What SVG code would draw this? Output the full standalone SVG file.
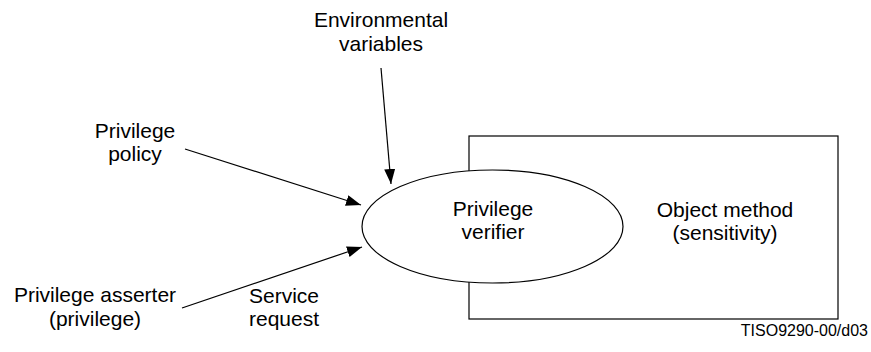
<svg xmlns="http://www.w3.org/2000/svg" width="871" height="352" viewBox="0 0 871 352">
<style>
text{font-family:"Liberation Sans",Arial,sans-serif;font-size:21px;fill:#000;text-anchor:middle}
.shape{fill:#fff;stroke:#000;stroke-width:1.2}
.conn{stroke:#000;stroke-width:1.2;fill:none;marker-end:url(#ah)}
</style>
<defs>
<marker id="ah" markerUnits="userSpaceOnUse" markerWidth="15" markerHeight="11" refX="15" refY="5.5" orient="auto">
<path d="M0,0 L15,5.5 L0,11 z" fill="#000"/>
</marker>
</defs>
<rect width="871" height="352" fill="#fff"/>
<g id="object-method">
<rect class="shape" x="469" y="136" width="369" height="183"/>
<text x="725" y="217">Object method</text>
<text x="725" y="240">(sensitivity)</text>
</g>
<g id="privilege-verifier">
<ellipse class="shape" cx="492.5" cy="226.5" rx="130.5" ry="56.5"/>
<text x="493" y="216">Privilege</text>
<text x="493" y="239">verifier</text>
</g>
<g id="environmental-variables">
<text x="381" y="27">Environmental</text>
<text x="381" y="51">variables</text>
</g>
<g id="privilege-policy">
<text x="135" y="138">Privilege</text>
<text x="135" y="161">policy</text>
</g>
<g id="privilege-asserter">
<text x="95" y="302">Privilege asserter</text>
<text x="95" y="326">(privilege)</text>
</g>
<g id="connectors">
<line class="conn" x1="381" y1="68" x2="391" y2="184"/>
<line class="conn" x1="185" y1="149" x2="361" y2="205"/>
<line class="conn" x1="182" y1="308" x2="362" y2="247"/>
<text x="284" y="303">Service</text>
<text x="284" y="326">request</text>
</g>
<text x="868" y="336" style="font-size:16px;text-anchor:end">TISO9290-00/d03</text>
</svg>
